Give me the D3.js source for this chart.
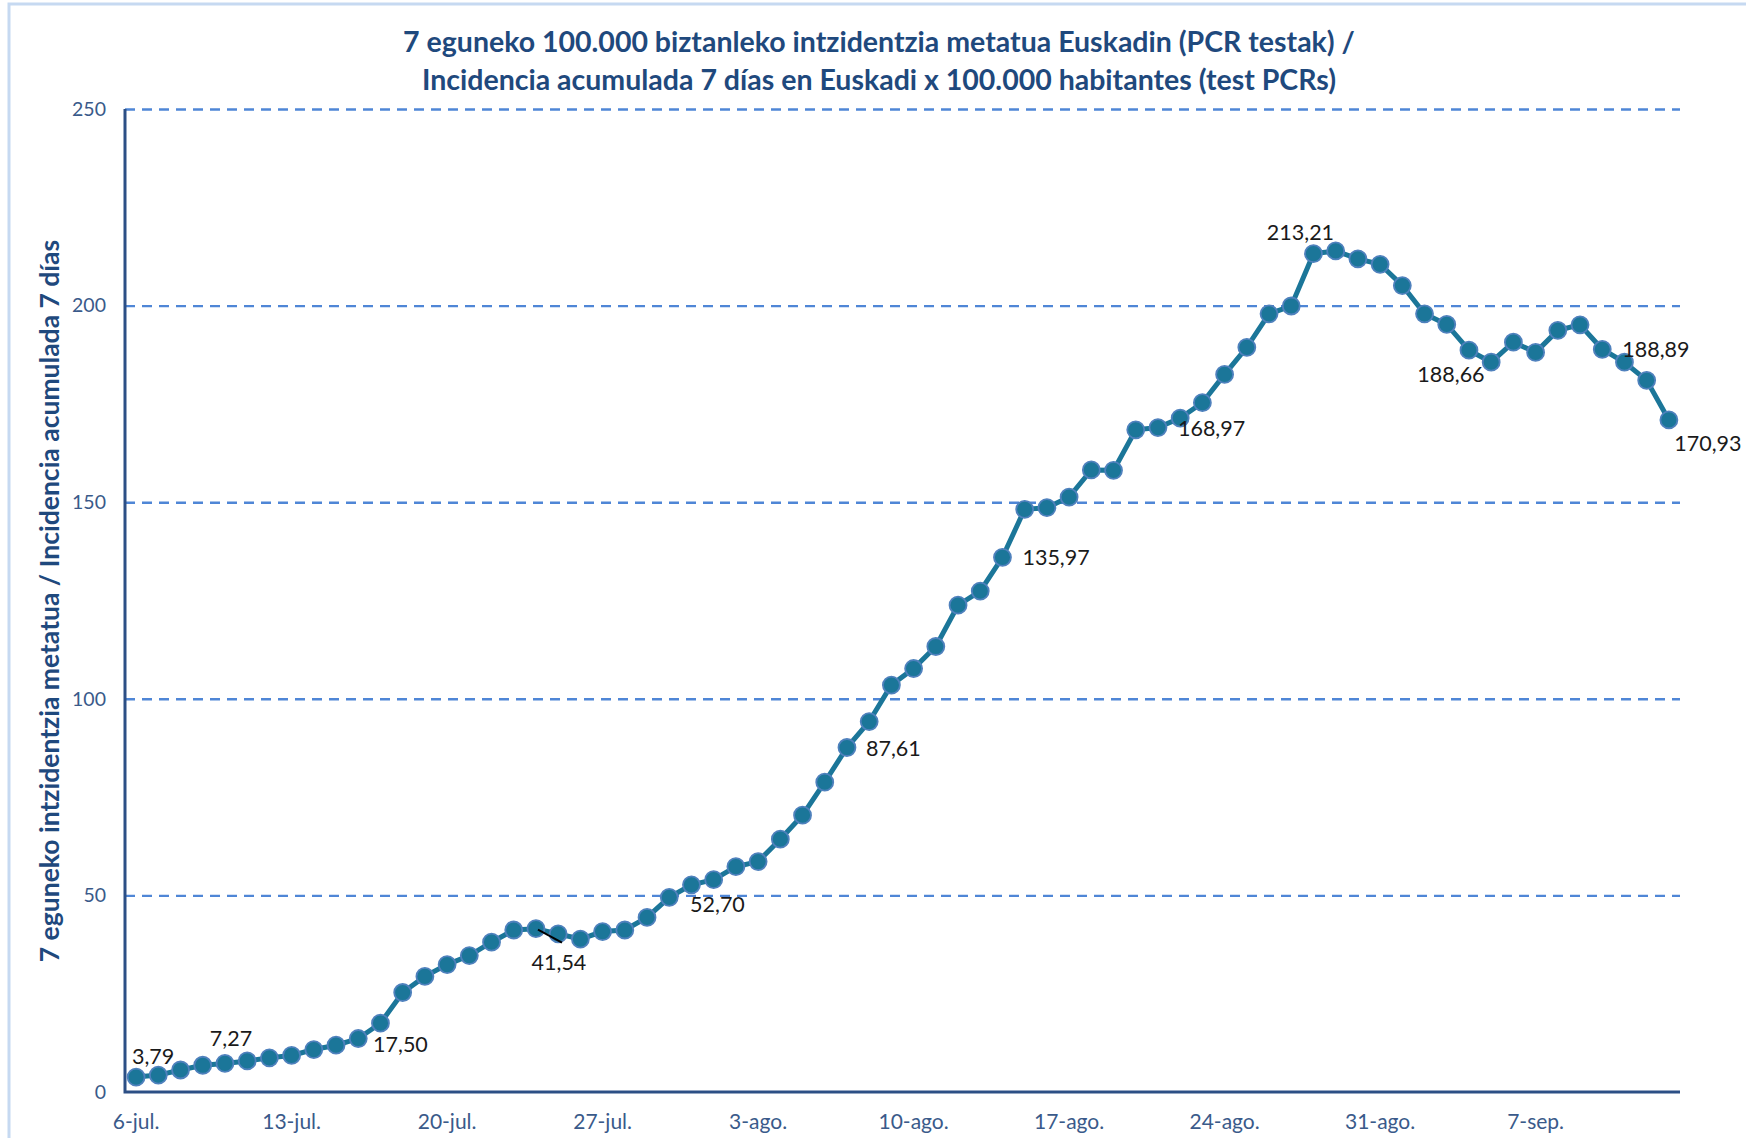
<!DOCTYPE html>
<html>

<head>
    <title>Incidencia acumulada 7 días Euskadi</title>
    <meta charset="UTF-8">
    <style type="text/css">
        body {
            margin: 0;
            background: #ffffff;
        }

        .grid line {
            stroke: #4f86d6;
            stroke-width: 2.4px;
            stroke-dasharray: 10 7;
        }

        .grid path {
            display: none;
        }

        .axis path,
        .axis line {
            display: none;
        }

        .line {
            fill: none;
            stroke: #1b7699;
            stroke-width: 5px;
        }
    </style>
    <script src="https://cdn.jsdelivr.net/npm/d3@7"></script>
</head>

<body>
    <script type="text/javascript">
        // first day of the series, one value per day
        var startDate = "2020-07-06";

        // x axis labels, one every 7 days
        var tickLabels = ["6-jul.", "13-jul.", "20-jul.", "27-jul.", "3-ago.", "10-ago.",
            "17-ago.", "24-ago.", "31-ago.", "7-sep."];

        // y axis ticks
        var yTicks = [0, 50, 100, 150, 200, 250];

        // 7 day cumulative incidence per 100.000 inhabitants
        var incidence = [
            3.79, 4.3, 5.6, 6.8, 7.27, 7.9, 8.7, 9.3, 10.8, 11.9,
            13.6, 17.50, 25.3, 29.4, 32.4, 34.7, 38.1, 41.2, 41.54, 40.2,
            38.9, 40.8, 41.2, 44.4, 49.5, 52.70, 54.0, 57.3, 58.6, 64.3,
            70.4, 78.8, 87.61, 94.2, 103.5, 107.7, 113.3, 123.8, 127.4, 135.97,
            148.2, 148.6, 151.3, 158.2, 158.1, 168.4, 168.97, 171.4, 175.3, 182.5,
            189.4, 197.9, 199.9, 213.21, 213.9, 211.9, 210.5, 205.1, 197.9, 195.2,
            188.66, 185.6, 190.7, 188.1, 193.7, 195.1, 188.89, 185.6, 181.0, 170.93
        ];

        // days that carry a value label
        var labelledDays = [0, 4, 11, 18, 25, 32, 39, 46, 53, 60, 66, 69];

        var titleLines = [
            "7 eguneko 100.000 biztanleko intzidentzia metatua Euskadin (PCR testak) /",
            "Incidencia acumulada 7 días en Euskadi x 100.000 habitantes (test PCRs)"
        ];
        var yTitle = "7 eguneko intzidentzia metatua / Incidencia acumulada 7 días";

        function plotIncidence() {
            var width = 1746,
                height = 1138;
            var plot = {
                left: 125,
                right: 1680,
                top: 109,
                bottom: 1092
            };
            var font = "Lato, 'Open Sans', sans-serif";

            var svg = d3.select("body")
                .append("svg")
                .attr("width", width)
                .attr("height", height);

            // light chart area border (top and left only are inside the picture)
            svg.append("path")
                .attr("d", "M9," + height + "V4H" + width)
                .attr("fill", "none")
                .attr("stroke", "#c6d9f1")
                .attr("stroke-width", 3);

            var days = d3.timeDay.range(new Date(startDate + "T00:00"),
                d3.timeDay.offset(new Date(startDate + "T00:00"), incidence.length));
            var data = incidence.map(function(v, i) {
                return {
                    i: i,
                    date: days[i],
                    value: v
                };
            });

            // category axis, each point sits in the middle of its day
            var x = d3.scaleBand()
                .domain(d3.range(data.length))
                .range([plot.left, plot.right]);
            var cx = function(i) {
                return x(i) + x.bandwidth() / 2;
            };

            var y = d3.scaleLinear()
                .domain([0, 250])
                .range([plot.bottom, plot.top]);

            // dashed horizontal grid
            svg.append("g")
                .attr("class", "grid")
                .attr("transform", "translate(" + plot.left + ",0)")
                .call(d3.axisRight(y)
                    .tickValues(yTicks.filter(function(t) {
                        return t > 0;
                    }))
                    .tickSize(plot.right - plot.left)
                    .tickFormat(""));

            // y tick labels
            var yAxis = svg.append("g")
                .attr("class", "axis")
                .attr("transform", "translate(" + plot.left + ",0)")
                .call(d3.axisLeft(y).tickValues(yTicks).tickSize(0).tickPadding(19));
            yAxis.selectAll("text")
                .style("font-family", font)
                .style("font-size", "19.5px")
                .attr("fill", "#3a5a8a");

            // x tick labels
            var xAxis = svg.append("g")
                .attr("class", "axis")
                .attr("transform", "translate(0," + plot.bottom + ")")
                .call(d3.axisBottom(x)
                    .tickValues(d3.range(0, data.length, 7))
                    .tickFormat(function(d) {
                        return tickLabels[d / 7];
                    })
                    .tickSize(0)
                    .tickPadding(22));
            xAxis.selectAll("text")
                .style("font-family", font)
                .style("font-size", "21px")
                .attr("fill", "#3a5a8a");

            // axis lines
            svg.append("path")
                .attr("d", "M" + plot.left + "," + plot.top + "V" + plot.bottom + "H" + plot.right)
                .attr("fill", "none")
                .attr("stroke", "#2c4f85")
                .attr("stroke-width", 3);

            // the series line
            var valueline = d3.line()
                .x(function(d) {
                    return cx(d.i);
                })
                .y(function(d) {
                    return y(d.value);
                });

            svg.append("path")
                .data([data])
                .attr("class", "line")
                .attr("d", valueline);

            // label placement: dx, dy from the point, text anchor
            var place = {
                0: [17, -13, "middle"],
                4: [6, -17, "middle"],
                11: [20, 29, "middle"],
                18: [23, 41, "middle"],
                25: [26, 27, "middle"],
                32: [19, 8, "start"],
                39: [20, 8, "start"],
                46: [20, 8, "start"],
                53: [-13, -14, "middle"],
                60: [-18, 32, "middle"],
                66: [20, 8, "start"],
                69: [39, 31, "middle"]
            };

            // markers
            svg.append("g")
                .selectAll("circle")
                .data(data)
                .enter()
                .append("circle")
                .attr("cx", function(d) {
                    return cx(d.i);
                })
                .attr("cy", function(d) {
                    return y(d.value);
                })
                .attr("r", 8.5)
                .attr("fill", "#1b7699")
                .attr("stroke", "#4f81bd")
                .attr("stroke-width", 1.8);

            // leader line for the 41,54 label
            svg.append("line")
                .attr("x1", cx(18) + 2)
                .attr("y1", y(incidence[18]) + 1)
                .attr("x2", cx(18) + 26)
                .attr("y2", y(incidence[18]) + 14)
                .attr("stroke", "#000000")
                .attr("stroke-width", 2);

            // value labels with a decimal comma
            var fmt = d3.format(".2f");
            svg.append("g")
                .selectAll("text")
                .data(labelledDays)
                .enter()
                .append("text")
                .attr("x", function(i) {
                    return cx(i) + place[i][0];
                })
                .attr("y", function(i) {
                    return y(incidence[i]) + place[i][1];
                })
                .attr("text-anchor", function(i) {
                    return place[i][2];
                })
                .style("font-family", font)
                .style("font-size", "21.5px")
                .attr("fill", "#1a1a1a")
                .text(function(i) {
                    return fmt(incidence[i]).replace(".", ",");
                });

            // chart title
            svg.append("g")
                .selectAll("text")
                .data(titleLines)
                .enter()
                .append("text")
                .attr("x", 879)
                .attr("y", function(d, k) {
                    return 52 + k * 38;
                })
                .attr("text-anchor", "middle")
                .style("font-family", font)
                .style("font-weight", "bold")
                .style("font-size", "28.5px")
                .attr("fill", "#1f497d")
                .text(function(d) {
                    return d;
                });

            // y axis title
            svg.append("text")
                .attr("transform", "translate(59,601) rotate(-90)")
                .attr("text-anchor", "middle")
                .style("font-family", font)
                .style("font-weight", "bold")
                .style("font-size", "26.5px")
                .attr("fill", "#1f497d")
                .text(yTitle);
        } //plotIncidence()

        plotIncidence();
    </script>

</body>

</html>
